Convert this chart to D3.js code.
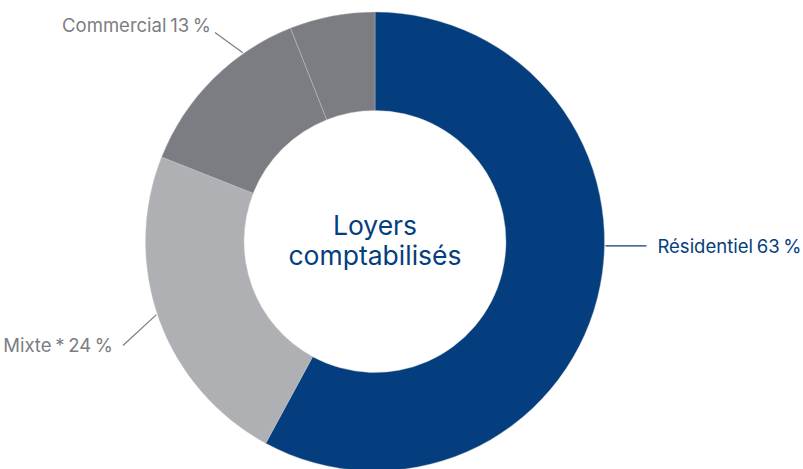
<!DOCTYPE html>
<html>
<head>
<meta charset="utf-8">
<script src="https://cdn.jsdelivr.net/npm/d3@7"></script>
<style>
  html, body { margin: 0; padding: 0; background: #fff; }
  svg { display: block; }
</style>
</head>
<body>
<svg id="chart" width="803" height="469"></svg>
<script>
// Data (shares; labels as printed)
const categories = ["Résidentiel", "Mixte", "Commercial", "Autre"];
const values = [57.9, 23.1, 13.0, 6.0];
const labelTexts = ["Résidentiel 63 %", "Mixte * 24 %", "Commercial 13 %", ""];
const colors = ["#053e7e", "#afb0b3", "#7b7d82", "#7b7d82"];
const labelColors = ["#053e7e", "#7b7d82", "#7b7d82", "#7b7d82"];
const centerLines = ["Loyers", "comptabilisés"];

const W = 803, H = 469;
const cx = 375, cy = 241.5, R = 229.5, r = 131;
const FONT = "Inter, 'Open Sans', sans-serif";

const svg = d3.select("#chart");
const g = svg.append("g").attr("transform", `translate(${cx},${cy})`);

const pie = d3.pie().sort(null).value(d => d.v);
const data = categories.map((c, i) => ({ c, v: values[i], i }));
const arcs = pie(data);
const arc = d3.arc().innerRadius(r).outerRadius(R);

g.selectAll("path.slice").data(arcs).enter().append("path")
  .attr("class", "slice")
  .attr("d", arc)
  .attr("fill", d => colors[d.data.i])
  .attr("stroke", "#c9cacc")
  .attr("stroke-width", 0.4);

// Leader lines + labels (positions anchored to arc angles)
const labelSpec = [
  { i: 0, angleDeg: 91.1, r1: R + 1, len: 41, anchor: "start", dx: 11, dy: 7, horiz: true },
  { i: 1, angleDeg: 251.5, r1: R + 1, end: [-252, 104], anchor: "end", dx: -10, dy: 6 },
  { i: 2, angleDeg: 325, r1: R + 1, end: [-160, -209], anchor: "end", dx: -4, dy: -1 }
];

labelSpec.forEach(s => {
  const a = s.angleDeg * Math.PI / 180;
  const x1 = Math.sin(a) * s.r1, y1 = -Math.cos(a) * s.r1;
  let x2, y2;
  if (s.horiz) { x2 = x1 + s.len; y2 = y1; }
  else { x2 = s.end[0]; y2 = s.end[1]; }
  g.append("line")
    .attr("x1", x1).attr("y1", y1).attr("x2", x2).attr("y2", y2)
    .attr("stroke", labelColors[s.i]).attr("stroke-width", 1.2);
  g.append("text")
    .attr("x", x2 + s.dx).attr("y", y2 + s.dy)
    .attr("text-anchor", s.anchor)
    .attr("fill", labelColors[s.i])
    .attr("font-family", FONT)
    .attr("font-size", 18.5)
    .attr("word-spacing", -1.5)
    .text(labelTexts[s.i]);
});

// Center title
g.selectAll("text.center").data(centerLines).enter().append("text")
  .attr("class", "center")
  .attr("x", 0)
  .attr("y", (d, k) => -7 + k * 30)
  .attr("text-anchor", "middle")
  .attr("fill", "#053e7e")
  .attr("font-family", FONT)
  .attr("font-size", 26.5)
  .text(d => d);
</script>
</body>
</html>
